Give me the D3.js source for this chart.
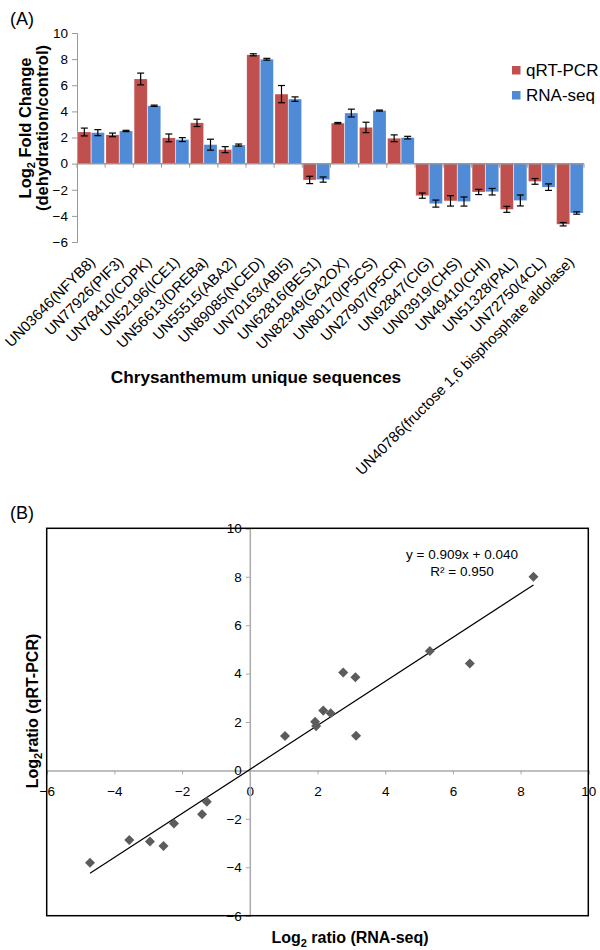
<!DOCTYPE html>
<html>
<head>
<meta charset="utf-8">
<script src="https://cdn.jsdelivr.net/npm/d3@7"></script>
<style>
  html, body { margin: 0; padding: 0; background: #fff; }
  svg { display: block; font-family: "Liberation Sans", Arial, Helvetica, sans-serif; }
</style>
</head>
<body>
<svg id="chart" width="600" height="950"></svg>
<script>
// ---------------- Data: panel A ----------------
const categories = [
  "UN03646(NFYB8)", "UN77926(PIF3)", "UN78410(CDPK)", "UN52196(ICE1)",
  "UN56613(DREBa)", "UN55515(ABA2)", "UN89085(NCED)", "UN70163(ABI5)",
  "UN62816(BES1)", "UN82949(GA2OX)", "UN80170(P5CS)", "UN27907(P5CR)",
  "UN92847(CIG)", "UN03919(CHS)", "UN49410(CHI)", "UN51328(PAL)",
  "UN72750(4CL)", "UN40786(fructose 1,6 bisphosphate aldolase)"
];
const seriesNames = ["qRT-PCR", "RNA-seq"];
const qrtValues = [2.42, 2.2, 6.48, 1.97, 3.12, 1.07, 8.33, 5.32, -1.25, 3.1, 2.77, 1.94, -2.45, -2.85, -2.17, -3.5, -1.36, -4.64];
const qrtErrors = [0.3, 0.14, 0.45, 0.3, 0.28, 0.23, 0.08, 0.66, 0.28, 0.05, 0.4, 0.26, 0.2, 0.4, 0.2, 0.23, 0.22, 0.13];
const rnaValues = [2.37, 2.5, 4.43, 1.84, 1.45, 1.42, 7.99, 4.94, -1.22, 3.87, 4.06, 1.99, -3.06, -2.9, -2.15, -2.82, -1.8, -3.78];
const rnaErrors = [0.23, 0.05, 0.05, 0.15, 0.42, 0.08, 0.07, 0.17, 0.2, 0.3, 0.04, 0.1, 0.27, 0.35, 0.25, 0.42, 0.25, 0.09];
const yTicksA = [-6, -4, -2, 0, 2, 4, 6, 8, 10];

// ---------------- Data: panel B ----------------
const scatterX = [-4.72, -3.56, -2.95, -2.55, -2.24, -1.41, -1.27, 1.04, 1.93, 1.96, 2.17, 2.39, 2.76, 3.12, 3.14, 5.32, 6.5, 8.38];
const scatterY = [-3.81, -2.87, -2.94, -3.12, -2.19, -1.81, -1.29, 1.42, 2.01, 1.83, 2.47, 2.36, 4.04, 3.85, 1.43, 4.93, 4.42, 8.0];
const fitSlope = 0.909;
const fitIntercept = 0.040;
const fitRange = [-4.72, 8.38];
const equationLines = ["y = 0.909x + 0.040", "R² = 0.950"];
const ticksB = [-6, -4, -2, 0, 2, 4, 6, 8, 10];

const colors = { "qRT-PCR": "#c0504d", "RNA-seq": "#4f8bd6" };

const svg = d3.select("#chart");

// ======================= PANEL A =======================
const A = { left: 77, right: 584, top: 33, bottom: 242 };
const yA = d3.scaleLinear().domain([-6, 10]).range([A.bottom, A.top]);
const x0 = d3.scaleBand().domain(categories).range([A.left, A.right]).paddingInner(0.06).paddingOuter(0.03);
const x1 = d3.scaleBand().domain(seriesNames).range([0, x0.bandwidth()]).paddingInner(0.04);

svg.append("text").attr("x", 10).attr("y", 25).attr("font-size", 18).text("(A)");

// y axis
const yAxisA = d3.axisLeft(yA).tickValues(yTicksA).tickSize(5).tickPadding(4).tickFormat(d3.format("d"));
const gyA = svg.append("g").attr("transform", `translate(${A.left},0)`).call(yAxisA);
gyA.select(".domain").attr("stroke", "#999");
gyA.selectAll(".tick line").attr("stroke", "#999");
gyA.selectAll(".tick text").attr("font-size", 13.5).attr("fill", "#000").attr("font-family", "Liberation Sans, Arial, sans-serif");

// Bars
const rows = categories.map((c, i) => ({
  cat: c,
  vals: [
    { s: "qRT-PCR", v: qrtValues[i], e: qrtErrors[i] },
    { s: "RNA-seq", v: rnaValues[i], e: rnaErrors[i] }
  ]
}));
const grp = svg.append("g").selectAll("g").data(rows).join("g")
  .attr("transform", d => `translate(${x0(d.cat)},0)`);
grp.selectAll("rect").data(d => d.vals).join("rect")
  .attr("x", d => x1(d.s))
  .attr("width", x1.bandwidth())
  .attr("y", d => yA(Math.max(0, d.v)))
  .attr("height", d => Math.abs(yA(d.v) - yA(0)))
  .attr("fill", d => colors[d.s])
  .attr("stroke", "#fff").attr("stroke-opacity", 0.35).attr("stroke-width", 0.5);

// Error bars
const eb = grp.selectAll("g.eb").data(d => d.vals).join("g").attr("class", "eb");
eb.append("line")
  .attr("x1", d => x1(d.s) + x1.bandwidth() / 2).attr("x2", d => x1(d.s) + x1.bandwidth() / 2)
  .attr("y1", d => yA(d.v - d.e)).attr("y2", d => yA(d.v + d.e))
  .attr("stroke", "#000").attr("stroke-width", 1.2);
eb.append("line")
  .attr("x1", d => x1(d.s) + x1.bandwidth() / 2 - 3.5).attr("x2", d => x1(d.s) + x1.bandwidth() / 2 + 3.5)
  .attr("y1", d => yA(d.v - d.e)).attr("y2", d => yA(d.v - d.e))
  .attr("stroke", "#000").attr("stroke-width", 1.2);
eb.append("line")
  .attr("x1", d => x1(d.s) + x1.bandwidth() / 2 - 3.5).attr("x2", d => x1(d.s) + x1.bandwidth() / 2 + 3.5)
  .attr("y1", d => yA(d.v + d.e)).attr("y2", d => yA(d.v + d.e))
  .attr("stroke", "#000").attr("stroke-width", 1.2);

// x axis at zero with ticks at category boundaries
const zeroY = yA(0);
svg.append("line").attr("x1", A.left).attr("x2", A.right).attr("y1", zeroY).attr("y2", zeroY)
  .attr("stroke", "#999").attr("stroke-width", 1.5);
const boundaries = d3.range(categories.length + 1).map(i => A.left + (A.right - A.left) * i / categories.length);
svg.append("g").selectAll("line").data(boundaries).join("line")
  .attr("x1", d => d).attr("x2", d => d).attr("y1", zeroY).attr("y2", zeroY + 4)
  .attr("stroke", "#999");

// Category labels (rotated -45)
svg.append("g").selectAll("text").data(categories).join("text")
  .attr("transform", d => `translate(${x0(d) + x0.bandwidth() / 2 + 5},${263}) rotate(-45)`)
  .attr("text-anchor", "end")
  .attr("font-size", 14.8)
  .text(d => d);

// Axis titles A
svg.append("text").attr("x", 256).attr("y", 383).attr("text-anchor", "middle")
  .attr("font-size", 17.2).attr("font-weight", "bold").text("Chrysanthemum unique sequences");

const yTitleA = svg.append("text").attr("transform", "translate(31,128) rotate(-90)")
  .attr("text-anchor", "middle").attr("font-size", 16.5).attr("font-weight", "bold");
yTitleA.append("tspan").text("Log");
yTitleA.append("tspan").attr("font-size", 11).attr("dy", 4).text("2");
yTitleA.append("tspan").attr("dy", -4).text(" Fold Change");
svg.append("text").attr("transform", "translate(48,128) rotate(-90)")
  .attr("text-anchor", "middle").attr("font-size", 16.5).attr("font-weight", "bold")
  .text("(dehydration/control)");

// Legend
const legend = svg.append("g").selectAll("g").data(seriesNames).join("g")
  .attr("transform", (d, i) => `translate(512,${66 + i * 25})`);
legend.append("rect").attr("width", 8.5).attr("height", 8.5).attr("fill", d => colors[d]);
legend.append("text").attr("x", 14).attr("y", 10).attr("font-size", 17).text(d => d);

// ======================= PANEL B =======================
const B = { left: 46.7, right: 588.3, top: 528.3, bottom: 915.7 };
const xB = d3.scaleLinear().domain([-6, 10]).range([B.left, B.right]);
const yB = d3.scaleLinear().domain([-6, 10]).range([B.bottom, B.top]);

svg.append("text").attr("x", 10).attr("y", 519).attr("font-size", 18).text("(B)");

// x axis (horizontal line at y=0)
const xAxisB = d3.axisBottom(xB).tickValues(ticksB).tickSize(4).tickPadding(12).tickFormat(d3.format("d"));
const gxB = svg.append("g").attr("transform", `translate(0,${yB(0)})`).call(xAxisB);
gxB.select(".domain").attr("stroke", "#aaa").attr("stroke-width", 1.5);
gxB.selectAll(".tick line").attr("stroke", "#aaa");
gxB.selectAll(".tick text").attr("font-size", 13.5).attr("fill", "#000").attr("font-family", "Liberation Sans, Arial, sans-serif");

// y axis (vertical line at x=0)
const yAxisB = d3.axisLeft(yB).tickValues(ticksB).tickSize(4).tickPadding(4).tickFormat(d3.format("d"));
const gyB = svg.append("g").attr("transform", `translate(${xB(0)},0)`).call(yAxisB);
gyB.select(".domain").attr("stroke", "#aaa").attr("stroke-width", 1.5);
gyB.selectAll(".tick line").attr("stroke", "#aaa");
gyB.selectAll(".tick text").attr("font-size", 13.5).attr("fill", "#000").attr("font-family", "Liberation Sans, Arial, sans-serif");

// Plot border
svg.append("rect").attr("x", B.left).attr("y", B.top)
  .attr("width", B.right - B.left).attr("height", B.bottom - B.top)
  .attr("fill", "none").attr("stroke", "#000").attr("stroke-width", 1.5);

// Trend line
svg.append("line")
  .attr("x1", xB(fitRange[0])).attr("y1", yB(fitSlope * fitRange[0] + fitIntercept))
  .attr("x2", xB(fitRange[1])).attr("y2", yB(fitSlope * fitRange[1] + fitIntercept))
  .attr("stroke", "#000").attr("stroke-width", 1.2);

// Points (diamonds)
const pts = scatterX.map((x, i) => ({ x, y: scatterY[i] }));
svg.append("g").selectAll("path").data(pts).join("path")
  .attr("transform", d => `translate(${xB(d.x)},${yB(d.y)})`)
  .attr("d", d3.symbol().type(d3.symbolDiamond2).size(64))
  .attr("fill", "#5c5c5c");

// Equation
svg.append("g").selectAll("text").data(equationLines).join("text")
  .attr("x", 462).attr("y", (d, i) => 559 + i * 17)
  .attr("text-anchor", "middle").attr("font-size", 13.5).text(d => d);

// Axis titles B
const xTitleB = svg.append("text").attr("x", 350).attr("y", 943).attr("text-anchor", "middle")
  .attr("font-size", 16).attr("font-weight", "bold");
xTitleB.append("tspan").text("Log");
xTitleB.append("tspan").attr("font-size", 11).attr("dy", 4).text("2");
xTitleB.append("tspan").attr("dy", -4).text(" ratio (RNA-seq)");

const yTitleB = svg.append("text").attr("transform", "translate(38,711) rotate(-90)")
  .attr("text-anchor", "middle").attr("font-size", 16).attr("font-weight", "bold");
yTitleB.append("tspan").text("Log");
yTitleB.append("tspan").attr("font-size", 11).attr("dy", 4).text("2");
yTitleB.append("tspan").attr("dy", -4).text("ratio (qRT-PCR)");
</script>
</body>
</html>
